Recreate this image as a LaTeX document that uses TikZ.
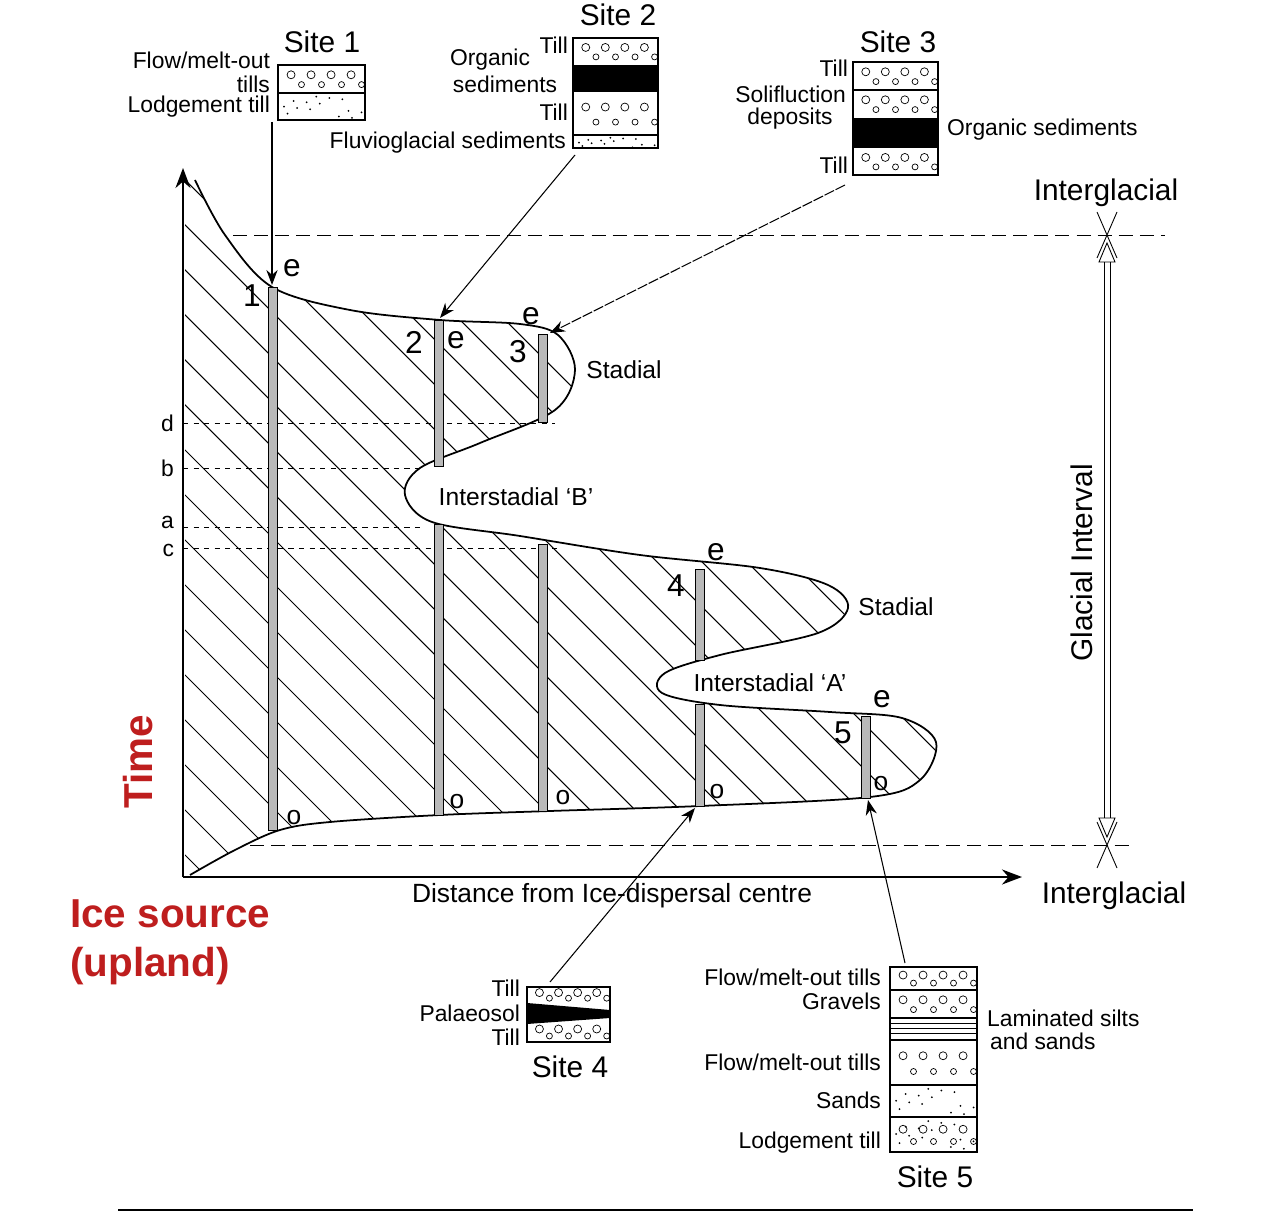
\documentclass[tikz,border=0pt]{standalone}
\usepackage{fontspec}
\setmainfont{Liberation Sans}
\usetikzlibrary{arrows.meta,positioning,calc}
\definecolor{srcred}{RGB}{190,30,30}
\tikzset{
  lab/.style={font=\fontsize{13}{14}\selectfont, inner sep=1pt},
  sitelab/.style={font=\fontsize{17}{18}\selectfont, inner sep=1pt},
  bar/.style={draw, fill=gray!55, line width=0.3pt},
  layer/.style={draw, line width=0.6pt},
  guide/.style={dashed, line width=0.4pt},
  feed/.style={-{Stealth[length=3mm]}, line width=0.6pt}
}
\newcommand{\pebbles}[4]{% x1 y1 x2 y2
  \foreach \k in {0,1,2,3} {
    \draw[line width=0.4pt] ($(#1,#2)!{0.15+0.23*\k}!(#3,#2) + (0,{(#4-#2)*0.35})$) circle[radius=4];
    \draw[line width=0.4pt] ($(#1,#2)!{0.27+0.23*\k}!(#3,#2) + (0,{(#4-#2)*0.7})$) circle[radius=3];}}
\newcommand{\speckles}[4]{%
  \foreach \k in {1,...,14} {
    \fill ($(#1,#2)!{mod(\k*37,100)/100}!(#3,#2) + (0,{(#4-#2)*mod(\k*53,90)/100+2})$) circle[radius=1];}}
\begin{document}
\begin{tikzpicture}[x=0.2mm,y=-0.2mm]
\useasboundingbox (0,0) rectangle (1286,1213);
% ice limit curve and hatching
\def\icepath{plot[smooth, tension=0.55] coordinates {(195,180) (225,235) (272,287) (350,310) (440,320) (520,324) (558,335) (575,370) (555,410) (480,443) (420,468) (405,495) (432,522) (520,536) (640,555) (760,568) (828,585) (848,608) (818,633) (720,655) (665,673) (662,693) (720,705) (830,712) (902,718) (936,742) (920,780) (870,797) (700,806) (550,811) (440,815) (330,822) (280,830) (235,850) (190,875)} -- (185,875) -- (185,180) -- cycle}
\begin{scope}
  \clip \icepath;
  \foreach \i in {-700,-655,...,1000} \draw[line width=0.6pt] (\i,150) -- ++(800,800);
\end{scope}
\draw[line width=1pt] plot[smooth, tension=0.55] coordinates {(195,180) (225,235) (272,287) (350,310) (440,320) (520,324) (558,335) (575,370) (555,410) (480,443) (420,468) (405,495) (432,522) (520,536) (640,555) (760,568) (828,585) (848,608) (818,633) (720,655) (665,673) (662,693) (720,705) (830,712) (902,718) (936,742) (920,780) (870,797) (700,806) (550,811) (440,815) (330,822) (280,830) (235,850) (190,875)};
% dashed time lines
\draw[guide, dash pattern=on 8pt off 4pt] (233,235) -- (1165,235);
\draw[guide, dash pattern=on 8pt off 4pt] (250,845) -- (1135,845);
\foreach \y/\t/\e/\dy in {423/d/555/0, 468/b/425/0, 527/a/425/2.5, 548/c/560/-1.5}
  \draw[guide, line width=0.3pt] (183,\y) node[left=4pt, lab, yshift=\dy, font=\fontsize{13}{14}\selectfont] (t\t) {\t} -- (\e,\y);
% sections
\draw[bar] (268,287) rectangle (277,830);
\draw[bar] (434,320) rectangle (443,466);
\draw[bar] (434,524) rectangle (443,815);
\draw[bar] (538,334) rectangle (547,422);
\draw[bar] (538,544) rectangle (547,811);
\draw[bar] (695,569) rectangle (704,660);
\draw[bar] (695,704) rectangle (704,806);
\draw[bar] (861,716) rectangle (870,798);
% axes
\draw[line width=1.2pt, -{Stealth[length=4mm]}] (183,877) -- (183,168);
\draw[line width=1.2pt, -{Stealth[length=4mm]}] (183,877) -- (1022,877);
\node[lab, font=\fontsize{15}{16}\selectfont] (xlab) at (612,896) {Distance from Ice-dispersal centre};
% labels on the curve
\tikzset{numlab/.style={font=\fontsize{18}{19}\selectfont, inner sep=1pt}}
\node[numlab] (n1) at (252,296) {1};
\node[numlab] (n2) at (414,342) {2};
\node[numlab] (n3) at (518,352) {3};
\node[numlab] (n4) at (676,586) {4};
\node[numlab] (n5) at (843,733) {5};
\foreach \x/\y/\n in {292/268/a, 456/340/b, 531/316/c, 716/552/d, 882/699/f}
  \node[numlab] (e\n) at (\x,\y) {e};
\foreach \x/\y/\n in {294/818/a, 457/802/b, 563/798/c, 717/792/d, 881/784/f}
  \node[lab, font=\fontsize{15}{16}\selectfont] (o\n) at (\x,\y) {o};
\node[lab, font=\fontsize{14}{15}\selectfont] (stadI) at (624,370) {Stadial};
\node[lab, font=\fontsize{14}{15}\selectfont] (stadII) at (896,607) {Stadial};
\node[lab, font=\fontsize{14}{15}\selectfont] (isB) at (516,497) {Interstadial `B'};
\node[lab, font=\fontsize{14}{15}\selectfont] (isA) at (770,683) {Interstadial `A'};
% glacial interval
\draw[line width=0.5pt] (1104,262) -- (1104,818) (1110,262) -- (1110,818);
\draw[line width=0.5pt, fill=white] (1099,262) -- (1107,243) -- (1115,262) -- cycle;
\draw[line width=0.5pt, fill=white] (1099,818) -- (1107,837) -- (1115,818) -- cycle;
\draw[line width=0.5pt] (1097,212) -- (1117,258) (1117,212) -- (1097,258);
\draw[line width=0.5pt] (1097,822) -- (1117,868) (1117,822) -- (1097,868);
\node[lab, rotate=90, font=\fontsize{17}{18}\selectfont, fill=white, inner sep=3pt] (gi) at (1082,563) {Glacial Interval};
\node[sitelab] (igtop) at (1106,193) {Interglacial};
\node[sitelab] (igbot) at (1114,896) {Interglacial};
% site 1
\node[draw, layer, minimum width=87*0.2mm, minimum height=55*0.2mm, inner sep=0] (s1) at (321.5,92.5) {};
\draw[layer] (278,93) -- (365,93);
\pebbles{278}{65}{365}{93}
\speckles{278}{93}{365}{120}
\node[sitelab] (s1t) at (322,42) {Site 1};
\node[lab, anchor=east] (s1a) at (272,60) {Flow/melt-out};
\node[lab, anchor=east] (s1b) at (272,84) {tills};
\node[lab, anchor=east] (s1c) at (272,107) {Lodgement till};
% site 2
\node[draw, layer, minimum width=85*0.2mm, minimum height=110*0.2mm, inner sep=0] (s2) at (615.5,93) {};
\fill (573,65) rectangle (658,92);
\draw[layer] (573,135) -- (658,135);
\pebbles{573}{38}{658}{65}
\pebbles{573}{92}{658}{135}
\speckles{573}{135}{658}{148}
\node[sitelab] (s2t) at (618,15) {Site 2};
\node[lab, anchor=east] (s2a) at (570,45) {Till};
\node[lab] (s2b) at (490,60) {Organic};
\node[lab] (s2c) at (505,84) {sediments};
\node[lab, anchor=east] (s2d) at (570,112) {Till};
\node[lab, anchor=east] (s2e) at (568,143) {Fluvioglacial sediments};
% site 3
\node[draw, layer, minimum width=85*0.2mm, minimum height=113*0.2mm, inner sep=0] (s3) at (895.5,118.5) {};
\fill (853,118) rectangle (938,148);
\draw[layer] (853,90) -- (938,90);
\pebbles{853}{62}{938}{90}
\pebbles{853}{90}{938}{118}
\pebbles{853}{148}{938}{175}
\node[sitelab] (s3t) at (898,42) {Site 3};
\node[lab, anchor=east] (s3a) at (850,68) {Till};
\node[lab, anchor=east] (s3b) at (848,94) {Solifluction};
\node[lab] (s3c) at (790,119) {deposits};
\node[lab, anchor=west] (s3d) at (945,130) {Organic sediments};
\node[lab, anchor=east] (s3e) at (850,165) {Till};
% site 4
\node[draw, layer, minimum width=83*0.2mm, minimum height=55*0.2mm, inner sep=0] (s4) at (568.5,1014.5) {};
\fill (527,1003) -- (610,1010) -- (610,1018) -- (527,1024) -- cycle;
\pebbles{527}{987}{610}{1003}
\pebbles{527}{1022}{610}{1042}
\node[sitelab] (s4t) at (570,1067) {Site 4};
\node[lab, anchor=east] (s4a) at (522,988) {Till};
\node[lab, anchor=east] (s4b) at (522,1013) {Palaeosol};
\node[lab, anchor=east] (s4c) at (522,1037) {Till};
% site 5
\node[draw, layer, minimum width=87*0.2mm, minimum height=185*0.2mm, inner sep=0] (s5) at (933.5,1059.5) {};
\foreach \y in {990,1018,1040,1085,1117} \draw[layer] (890,\y) -- (977,\y);
\foreach \y in {1023,1028,1033} \draw[line width=0.4pt] (890,\y) -- (977,\y);
\pebbles{890}{967}{977}{990}
\pebbles{890}{990}{977}{1018}
\pebbles{890}{1040}{977}{1085}
\speckles{890}{1085}{977}{1117}
\speckles{890}{1117}{977}{1152}
\pebbles{890}{1117}{977}{1152}
\node[sitelab] (s5t) at (935,1177) {Site 5};
\node[lab, anchor=east] (s5a) at (883,977) {Flow/melt-out tills};
\node[lab, anchor=east] (s5b) at (883,1001) {Gravels};
\node[lab, anchor=east] (s5c) at (883,1062) {Flow/melt-out tills};
\node[lab, anchor=east] (s5d) at (883,1100) {Sands};
\node[lab, anchor=east] (s5e) at (883,1143) {Lodgement till};
\node[lab, anchor=west] (s5f) at (985,1018) {Laminated silts};
\node[lab, anchor=west] (s5g) at (988,1041) {and sands};
% feeders from sites
\coordinate (p1) at (272,285);
\coordinate (p2) at (440,318);
\coordinate (p3) at (550,333);
\coordinate (p4) at (695,808);
\coordinate (p5) at (868,800);
\draw[feed] (272,122) -- (p1);
\draw[feed] (575,155) -- (p2);
\draw[feed, dash pattern=on 6pt off 1pt] (845,185) -- (p3);
\draw[feed] (550,982) -- (p4);
\draw[feed] (905,963) -- (p5);
% ice source
\node[font=\fontsize{23}{28}\selectfont\bfseries, text=srcred, rotate=90] (time) at (138,762) {Time};
\node[font=\fontsize{23}{28}\selectfont\bfseries, text=srcred, align=left, anchor=north west] (src) at (64,893) {Ice source\\(upland)};
\draw[line width=1.2pt] (118,1210) -- (1193,1210);
\end{tikzpicture}
\end{document}
